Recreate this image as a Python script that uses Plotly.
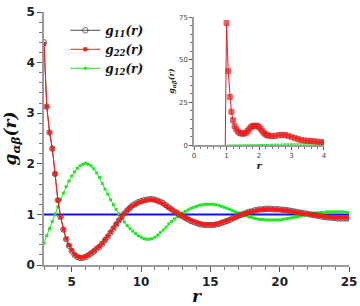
import plotly.graph_objects as go

# ---------------- main panel data ----------------
r_main = [round(3.0 + 0.2 * i, 1) for i in range(111)]

g11 = [4.40, 3.13, 2.62, 2.30, 1.80, 1.28, 0.95, 0.70, 0.51, 0.38,
       0.28, 0.20, 0.16, 0.14, 0.14, 0.16, 0.19, 0.23, 0.27, 0.32,
       0.36, 0.42, 0.49, 0.56, 0.64, 0.72, 0.80, 0.88, 0.95, 1.02,
       1.08, 1.13, 1.18, 1.21, 1.24, 1.26, 1.28, 1.29, 1.30, 1.30,
       1.29, 1.27, 1.25, 1.22, 1.18, 1.14, 1.10, 1.06, 1.03, 0.99,
       0.96, 0.93, 0.90, 0.87, 0.85, 0.83, 0.81, 0.80, 0.79, 0.79,
       0.79, 0.79, 0.80, 0.81, 0.83, 0.85, 0.87, 0.89, 0.92, 0.94,
       0.97, 0.99, 1.01, 1.03, 1.05, 1.06, 1.08, 1.09, 1.10, 1.10,
       1.11, 1.11, 1.11, 1.10, 1.10, 1.10, 1.09, 1.09, 1.08, 1.07,
       1.06, 1.05, 1.04, 1.03, 1.02, 1.01, 1.00, 0.99, 0.98, 0.97,
       0.96, 0.95, 0.94, 0.94, 0.93, 0.93, 0.92, 0.92, 0.92, 0.92,
       0.92]

g22 = [4.37, 3.13, 2.62, 2.30, 1.80, 1.28, 0.95, 0.70, 0.52, 0.39,
       0.29, 0.21, 0.17, 0.15, 0.15, 0.17, 0.20, 0.24, 0.28, 0.33,
       0.37, 0.43, 0.50, 0.57, 0.65, 0.73, 0.81, 0.88, 0.95, 1.02,
       1.08, 1.13, 1.17, 1.20, 1.23, 1.25, 1.27, 1.28, 1.29, 1.29,
       1.28, 1.26, 1.24, 1.21, 1.17, 1.13, 1.10, 1.06, 1.03, 0.99,
       0.96, 0.93, 0.91, 0.88, 0.86, 0.84, 0.82, 0.81, 0.80, 0.80,
       0.80, 0.80, 0.81, 0.82, 0.84, 0.86, 0.88, 0.90, 0.92, 0.94,
       0.97, 0.99, 1.01, 1.03, 1.04, 1.05, 1.07, 1.08, 1.09, 1.09,
       1.10, 1.10, 1.10, 1.09, 1.09, 1.09, 1.08, 1.08, 1.07, 1.06,
       1.05, 1.04, 1.03, 1.02, 1.01, 1.01, 1.00, 0.99, 0.98, 0.97,
       0.97, 0.96, 0.95, 0.95, 0.94, 0.94, 0.94, 0.94, 0.94, 0.94,
       0.94]

g12 = [0.43, 0.58, 0.72, 0.86, 1.01, 1.15, 1.29, 1.42, 1.55, 1.66,
       1.76, 1.84, 1.91, 1.96, 1.99, 2.01, 1.99, 1.96, 1.90, 1.82,
       1.73, 1.61, 1.50, 1.40, 1.29, 1.19, 1.10, 1.01, 0.92, 0.85,
       0.78, 0.72, 0.67, 0.62, 0.58, 0.55, 0.52, 0.51, 0.51, 0.52,
       0.55, 0.59, 0.64, 0.69, 0.75, 0.81, 0.86, 0.91, 0.95, 0.99,
       1.03, 1.06, 1.09, 1.12, 1.14, 1.16, 1.18, 1.19, 1.20, 1.20,
       1.20, 1.20, 1.19, 1.18, 1.16, 1.14, 1.12, 1.10, 1.07, 1.05,
       1.03, 1.01, 0.99, 0.97, 0.95, 0.94, 0.92, 0.91, 0.90, 0.90,
       0.89, 0.89, 0.89, 0.89, 0.89, 0.89, 0.90, 0.91, 0.92, 0.93,
       0.94, 0.95, 0.96, 0.98, 0.99, 1.00, 1.01, 1.02, 1.03, 1.03,
       1.04, 1.04, 1.05, 1.05, 1.05, 1.05, 1.05, 1.05, 1.05, 1.04,
       1.04]

r_ref = [3.0, 25.0]
g_ref = [1.0, 1.0]

# ---------------- inset data ----------------
r_in22 = [0.96, 1.00, 1.05, 1.10, 1.15, 1.20, 1.25, 1.30, 1.35, 1.40,
          1.45, 1.50, 1.55, 1.60, 1.65, 1.70, 1.75, 1.80, 1.85, 1.90,
          1.95, 2.00, 2.05, 2.10, 2.15, 2.20, 2.25, 2.30, 2.40, 2.50,
          2.60, 2.70, 2.80, 2.90, 3.00, 3.10, 3.20, 3.30, 3.40, 3.50,
          3.60, 3.70, 3.80, 3.90, 4.00]
g_in22 = [0.0, 71.5, 43.3, 28.2, 19.5, 14.6, 11.1, 9.3, 8.0, 7.2,
          6.8, 6.7, 6.8, 7.3, 8.2, 9.4, 10.5, 11.1, 11.3, 11.3,
          11.2, 10.6, 9.5, 8.2, 7.1, 6.3, 5.8, 5.5, 5.3, 5.4,
          5.8, 6.0, 5.9, 5.4, 4.8, 4.1, 3.5, 3.0, 2.7, 2.5,
          2.3, 2.2, 2.0, 1.8, 1.6]

r_in12 = [1.0, 2.3, 2.4, 2.5, 2.6, 2.7, 2.8, 2.9, 3.0, 3.1, 3.2, 3.3,
          3.4, 3.5, 3.6, 3.7, 3.8, 3.9, 4.0]
g_in12 = [0.0, 0.0, 0.02, 0.05, 0.10, 0.17, 0.25, 0.34, 0.43, 0.50,
          0.58, 0.65, 0.72, 0.79, 0.86, 0.94, 1.01, 1.08, 1.15]

legend_names = ["<b><i>g<sub>11</sub>(r)</i></b>",
                "<b><i>g<sub>22</sub>(r)</i></b>",
                "<b><i>g<sub>12</sub>(r)</i></b>"]

RED = "#ff1a1a"
GREEN = "#22e622"
SERIF = "DejaVu Serif"
SANS = "DejaVu Sans"

fig = go.Figure()

fig.add_trace(go.Scatter(x=r_ref, y=g_ref, mode="lines",
                         line=dict(color="#1010ff", width=2),
                         showlegend=False))
fig.add_trace(go.Scatter(x=r_main, y=g12, mode="lines+markers",
                         name=legend_names[2], legendrank=3,
                         line=dict(color=GREEN, width=1),
                         marker=dict(symbol="square", size=3, color=GREEN)))
fig.add_trace(go.Scatter(x=r_main, y=g11, mode="lines+markers",
                         name=legend_names[0], legendrank=1,
                         line=dict(color="#222222", width=0.8),
                         marker=dict(symbol="circle-open", size=5.5,
                                     color="#444444", line=dict(width=0.8))))
fig.add_trace(go.Scatter(x=r_main, y=g22, mode="lines+markers",
                         name=legend_names[1], legendrank=2,
                         line=dict(color=RED, width=1),
                         marker=dict(symbol="square", size=4, color=RED)))

# inset traces
fig.add_trace(go.Scatter(x=r_in12, y=g_in12, mode="lines+markers",
                         xaxis="x2", yaxis="y2", showlegend=False,
                         line=dict(color=GREEN, width=1),
                         marker=dict(symbol="square", color=GREEN,
                                     size=[0 if v == 0 else 4 for v in g_in12])))
fig.add_trace(go.Scatter(x=r_in22, y=g_in22, mode="lines+markers",
                         xaxis="x2", yaxis="y2", showlegend=False,
                         line=dict(color="#d82020", width=1),
                         marker=dict(symbol="square", color=RED,
                                     size=[0 if v == 0 else 5 for v in g_in22])))

axis_common = dict(showline=True, linecolor="#9a9a9a", linewidth=1.5,
                   ticks="outside", tickcolor="#555555", showgrid=False,
                   zeroline=False, automargin=False)

fig.update_layout(
    width=360, height=306,
    margin=dict(l=44, r=11, t=12, b=41, autoexpand=False),
    paper_bgcolor="white", plot_bgcolor="white",
    showlegend=True,
    legend=dict(x=0.07, y=0.985, xanchor="left", yanchor="top",
                bgcolor="rgba(0,0,0,0)", tracegroupgap=0,
                font=dict(family=SERIF, size=12, color="#111111"),
                itemwidth=30),
    xaxis=dict(range=[3, 25], tick0=5, dtick=5, ticklen=5,
               minor=dict(dtick=1, ticklen=3, ticks="outside", tickcolor="#777777"),
               tickfont=dict(family=SANS, size=12, color="#222222", weight="bold"),
               title=dict(text="<b><i>r</i></b>", standoff=4,
                          font=dict(family=SERIF, size=17, color="#111111")),
               **axis_common),
    yaxis=dict(range=[0, 5], dtick=1, ticklen=5,
               minor=dict(dtick=0.2, ticklen=3, ticks="outside", tickcolor="#777777"),
               tickfont=dict(family=SANS, size=12, color="#222222", weight="bold"),
               title=dict(text="<b><i>g<sub>αβ</sub>(r)</i></b>", standoff=6,
                          font=dict(family=SERIF, size=17, color="#111111")),
               **axis_common),
    xaxis2=dict(domain=[0.492, 0.918], anchor="y2", range=[0, 4], dtick=1,
                ticklen=3,
                minor=dict(dtick=0.2, ticklen=2, ticks="outside", tickcolor="#777777"),
                tickfont=dict(family=SANS, size=7, color="#444444"),
                title=dict(text="<b><i>r</i></b>", standoff=2,
                           font=dict(family=SERIF, size=10, color="#222222")),
                **axis_common),
    yaxis2=dict(domain=[0.474, 0.98], anchor="x2", range=[0, 75], dtick=25,
                ticklen=3,
                minor=dict(dtick=5, ticklen=2, ticks="outside", tickcolor="#777777"),
                tickfont=dict(family=SANS, size=7, color="#444444"),
                title=dict(text="<b><i>g<sub>αβ</sub>(r)</i></b>", standoff=3,
                           font=dict(family=SERIF, size=8, color="#222222")),
                **axis_common),
)

fig.write_html(
    "out.html",
    config={"displayModeBar": False},
    post_script="document.body.style.margin='0';document.body.style.overflow='hidden';",
)
